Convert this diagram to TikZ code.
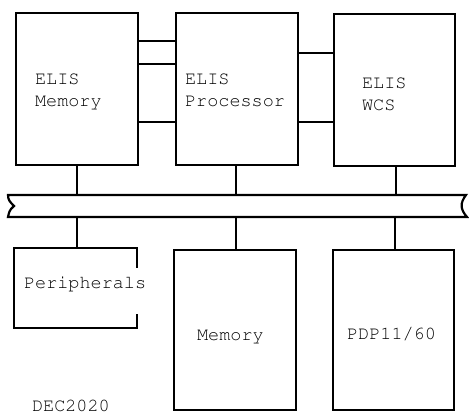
\documentclass[tikz,border=0pt]{standalone}
\usepackage[T1]{fontenc}
\renewcommand\ttdefault{pcr}
\begin{document}
\begin{tikzpicture}[x=1pt,y=-1pt,
  line width=2.2pt, line join=miter,
  blk/.style={draw, minimum width=#1, inner sep=0pt, anchor=north west},
  lbl/.style={font=\ttfamily\fontsize{18.5}{22}\selectfont, anchor=base west, inner sep=0pt}]
\useasboundingbox (0,0) rectangle (469,414);
% top boxes
\node[blk=122pt, minimum height=152pt] (em) at (15,12) {};
\node[blk=122pt, minimum height=152pt] (ep) at (175,12) {};
\node[blk=121pt, minimum height=152pt] (ew) at (333,13) {};
% lower boxes
\node[blk=122pt, minimum height=160pt] (mem) at (173,249) {};
\node[blk=121pt, minimum height=160pt] (pdp) at (332,249) {};
% peripherals (open on right)
\coordinate (pa) at (137,268);
\coordinate (pb) at (137,314);
\draw (pa) -- (137,248) -- (14,248) -- (14,328) -- (137,328) -- (pb);
\coordinate (per) at (77,248);
% bus
\draw (8,195) -- (466,195) .. controls (460,203) and (460,209) .. (467,217)
  -- (8,217) .. controls (9,213) and (9,210) .. (14,206)
  .. controls (10,202) and (8,200) .. (8,195) -- cycle;
\coordinate (bus1t) at (77,195);
\coordinate (bus2t) at (236,195);
\coordinate (bus3t) at (396,195);
\coordinate (bus1b) at (77,217);
\coordinate (bus2b) at (236,217);
\coordinate (bus3b) at (395,217);
% drops to bus
\draw (em.south -| bus1t) -- (bus1t);
\draw (ep.south -| bus2t) -- (bus2t);
\draw (ew.south -| bus3t) -- (bus3t);
\draw (bus1b) -- (per);
\draw (bus2b) -- (mem.north -| bus2b);
\draw (bus3b) -- (pdp.north -| bus3b);
% links between top boxes
\draw (em.east |- 0,41) -- (ep.west |- 0,41);
\draw (em.east |- 0,64) -- (ep.west |- 0,64);
\draw (em.east |- 0,122) -- (ep.west |- 0,122);
\draw (ep.east |- 0,53) -- (ew.west |- 0,53);
\draw (ep.east |- 0,122) -- (ew.west |- 0,122);
% labels
\node[lbl] (t1a) at (34,85) {ELIS};
\node[lbl] (t1b) at (34,107) {Memory};
\node[lbl] (t2a) at (184,85) {ELIS};
\node[lbl] (t2b) at (184,107) {Processor};
\node[lbl] (t3a) at (361,89) {ELIS};
\node[lbl] (t3b) at (361,111) {WCS};
\node[lbl] (t4) at (23,289) {Peripherals};
\node[lbl] (t5) at (196,341) {Memory};
\node[lbl] (t6) at (346,340) {PDP11/60};
\node[lbl] (t7) at (31,411) {DEC2020};
\end{tikzpicture}
\end{document}
